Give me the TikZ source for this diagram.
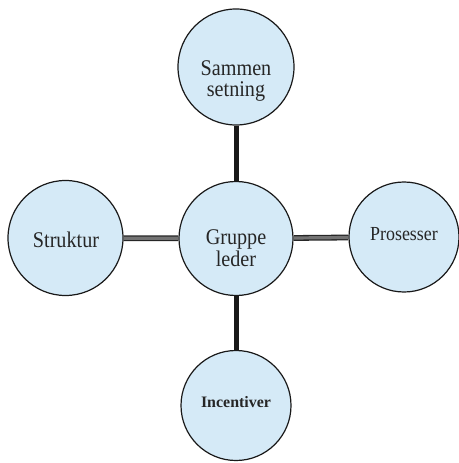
\documentclass[tikz,border=0pt]{standalone}
\usepackage{fontspec}
\setmainfont{Liberation Serif}
\newfontfamily\narrowserif[FakeStretch=0.9]{Liberation Serif}
\begin{document}
\begin{tikzpicture}[x=1bp,y=-1bp,
  hub/.style={circle, draw=black!90, line width=1.2bp, fill=bubble, inner sep=0pt},
  caption/.style={anchor=base, inner sep=0pt, text=black!85, align=center,
    font=\narrowserif\fontsize{22.5}{22}\selectfont},
  vlink/.style={line width=5bp, draw=black!90},
  hlink/.style={draw=black!85, line width=1.3bp, double=black!55, double distance=3.2bp}
]
\definecolor{bubble}{HTML}{D5EAF7}
\useasboundingbox (0,0) rectangle (459,463);

% circles
\node[hub, minimum size=116bp] (top)    at (236,67)    {};
\node[hub, minimum size=115bp] (left)   at (65.5,238)  {};
\node[hub, minimum size=114bp] (centre) at (236,238.5) {};
\node[hub, minimum size=110bp] (right)  at (404,237)   {};
\node[hub, minimum size=110bp] (bottom) at (236,405.5) {};

% connectors
\draw[vlink] (top) -- (centre);
\draw[vlink] (centre) -- (bottom);
\draw[hlink] (left) -- (centre);
\draw[hlink] (centre) -- (right);

% captions, placed by the baseline of their last line
\node[caption] (top-t)    at (236,97)  {Sammen\\setning};
\node[caption] (left-t)   at (66,247)  {Struktur};
\node[caption] (centre-t) at (236,266) {Gruppe\\leder};
\node[caption, font=\narrowserif\fontsize{20}{22}\selectfont] (right-t) at (404,240) {Prosesser};
\node[caption, font=\bfseries\fontsize{16}{18}\selectfont] (bottom-t) at (236,407) {Incentiver};
\end{tikzpicture}
\end{document}
